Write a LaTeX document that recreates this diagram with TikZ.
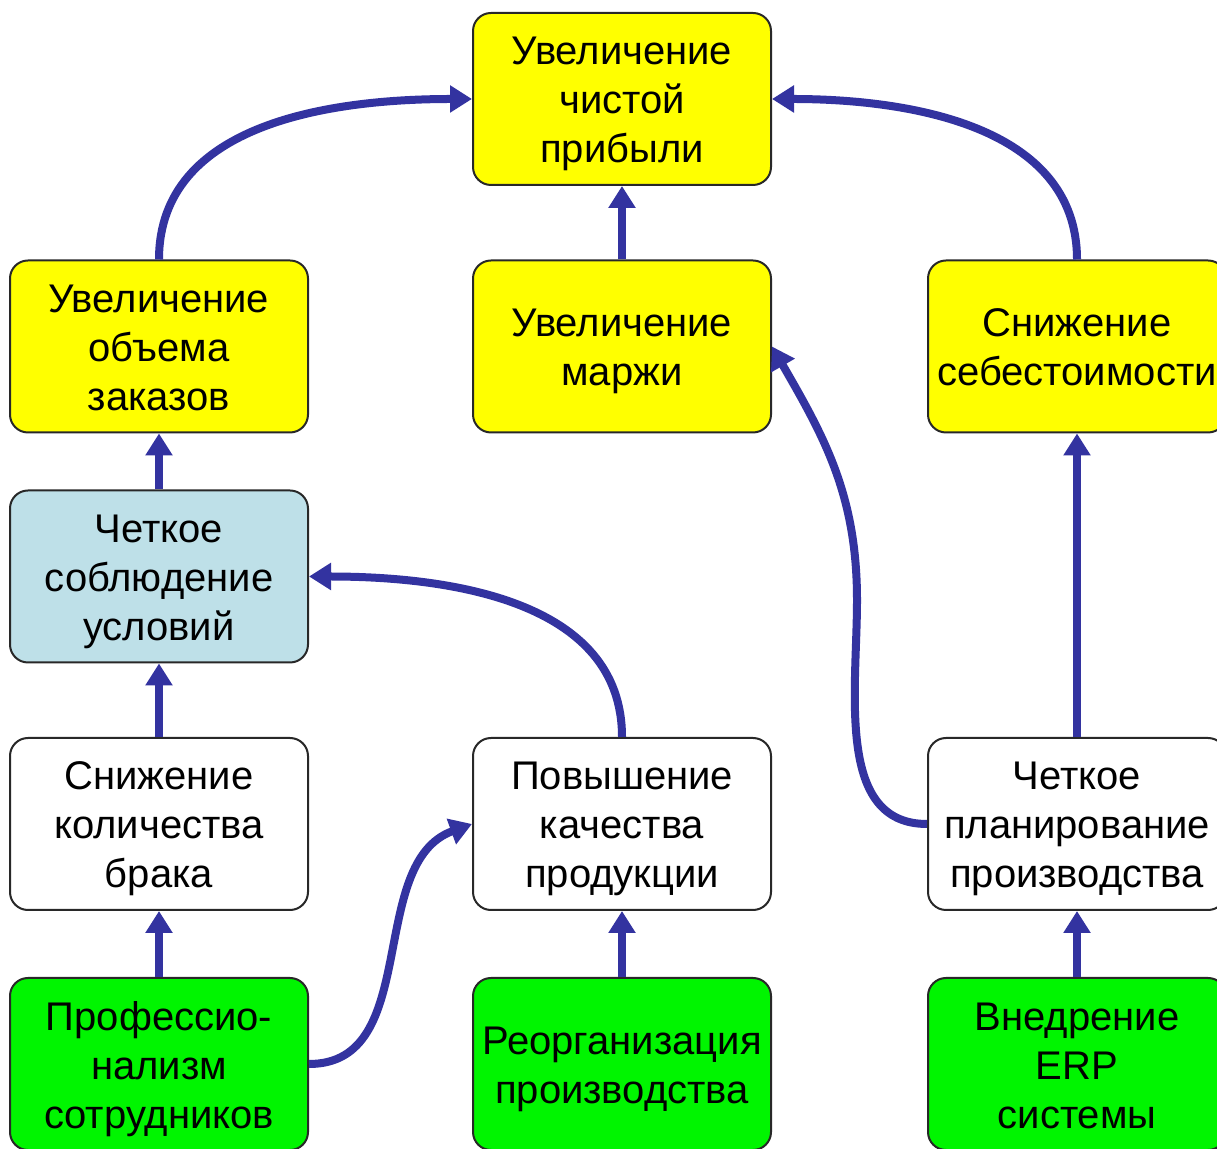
\documentclass[tikz,border=0pt]{standalone}
\usepackage{fontspec}
\setmainfont{Liberation Sans}
\usetikzlibrary{arrows.meta}

\definecolor{boxyellow}{RGB}{255,255,0}
\definecolor{boxblue}{RGB}{190,224,232}
\definecolor{boxgreen}{RGB}{0,245,0}
\definecolor{linkblue}{RGB}{51,51,160}
\definecolor{boxline}{RGB}{40,40,40}

% fixed first-line height keeps the lines evenly placed in every box
\newcommand\topstrut{\rule{0pt}{40pt}}

\tikzset{
  box/.style={draw=boxline, line width=2pt, rounded corners=18pt,
    minimum width=298pt, minimum height=172pt, inner sep=0pt,
    align=center, font=\fontsize{40}{49}\selectfont,
    execute at end node={\rule[-10pt]{0pt}{10pt}}},
  goal/.style={box, fill=boxyellow},
  terms/.style={box, fill=boxblue},
  factor/.style={box, fill=white},
  action/.style={box, fill=boxgreen},
  link/.style={draw=linkblue, line width=8pt,
    -{Triangle[width=26pt,length=22pt]}}
}

\begin{document}
\begin{tikzpicture}[x=1pt,y=1pt]
\useasboundingbox (0,0) rectangle (1217,1148);
\clip (0,0) rectangle (1217,1148);
\fill[white] (0,0) rectangle (1217,1148);

% goals
\node[goal] (t1) at (622,1049) {\topstrut Увеличение\\чистой\\прибыли};
\node[goal] (l2) at (159,801.5) {\topstrut Увеличение\\объема\\заказов};
\node[goal] (m2) at (622,801.5) {\topstrut Увеличение\\маржи};
\node[goal] (r2) at (1077,801.5) {\topstrut Снижение\\себестоимости};

% intermediate factors
\node[terms] (l3) at (159,571.5) {\topstrut Четкое\\соблюдение\\условий};
\node[factor] (l4) at (159,324) {\topstrut Снижение\\количества\\брака};
\node[factor] (m4) at (622,324) {\topstrut Повышение\\качества\\продукции};
\node[factor] (r4) at (1077,324) {\topstrut Четкое\\планирование\\производства};

% actions
\node[action] (l5) at (159,84) {\topstrut Профессио-\\нализм\\сотрудников};
\node[action] (m5) at (622,84) {\topstrut Реорганизация\\производства};
\node[action] (r5) at (1077,84) {\topstrut Внедрение\\ERP\\системы};

\coordinate (bend) at (857,548);

% connectors
\draw[link] (l2.north) to[out=90,in=180] (t1.west);
\draw[link] (r2.north) to[out=90,in=0] (t1.east);
\draw[link] (m2.north) -- (t1.south);
\draw[link] (l3.north) -- (l2.south);
\draw[link] (l4.north) -- (l3.south);
\draw[link] (l5.north) -- (l4.south);
\draw[link] (m5.north) -- (m4.south);
\draw[link] (r5.north) -- (r4.south);
\draw[link] (r4.north) -- (r2.south);
\draw[link] (m4.north) to[out=90,in=0] (l3.east);
\draw[link] (l5.east) to[out=0,in=200] (m4.west);
\draw[link] (r4.west) to[out=180,in=-90] (bend) to[out=90,in=-60] (m2.east);
\end{tikzpicture}
\end{document}
